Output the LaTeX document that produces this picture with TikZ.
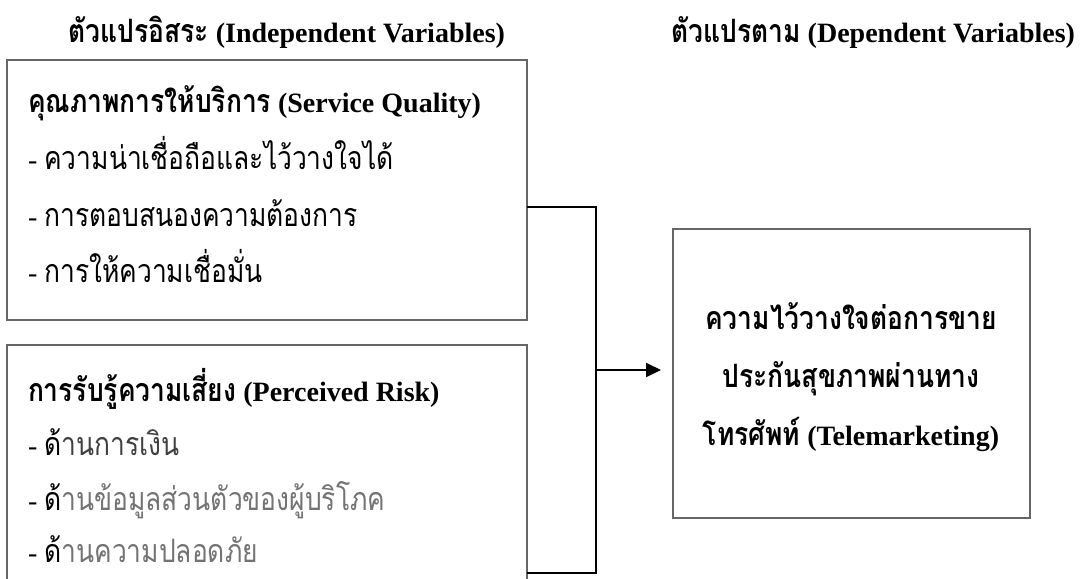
\documentclass[tikz,border=0pt]{standalone}
\usepackage{fontspec}
\setmainfont{Liberation Serif}
\newfontfamily\thai[Script=Thai,FakeStretch=0.82,Scale=1.15]{Loma}
\usetikzlibrary{arrows.meta}
\newcommand{\tha}[1]{{\thai #1}}
\definecolor{faded}{gray}{0.45}
\definecolor{faded2}{gray}{0.25}
\begin{document}
\begin{tikzpicture}[x=1pt,y=-1pt,
  every node/.style={inner sep=0pt, outer sep=0pt, font=\fontsize{28}{34}\selectfont},
  box/.style={draw=black!60, line width=1.2pt},
  conn/.style={line width=2.7pt, black, line join=miter},
  arr/.style={line width=2pt, black, -{Triangle[length=15pt,width=14pt]}},
  txt/.style={anchor=base west},
  ctr/.style={anchor=base}]
\useasboundingbox (0,0) rectangle (1083,578);
\clip (0,0) rectangle (1083,578);

% titles
\node[anchor=base east] (tl) at (505,43) {\bfseries\tha{ตัวแปรอิสระ} (Independent Variables)};
\node[anchor=base east] (tr) at (1075,43) {\bfseries\tha{ตัวแปรตาม} (Dependent Variables)};

% boxes
\node[box, anchor=north west, minimum width=520pt, minimum height=260pt] (sq) at (7,60) {};
\node[box, anchor=north west, minimum width=520pt, minimum height=300pt] (pr) at (7,345) {};
\node[box, anchor=north west, minimum width=357pt, minimum height=289pt] (tm) at (673,229) {};

% box 1 text
\node[txt] (sq0) at (28,112) {\bfseries\tha{คุณภาพการให้บริการ} (Service Quality)};
\node[txt] (sq1) at (28,169) {- \tha{ความน่าเชื่อถือและไว้วางใจได้}};
\node[txt] (sq2) at (28,226) {- \tha{การตอบสนองความต้องการ}};
\node[txt] (sq3) at (28,282) {- \tha{การให้ความเชื่อมั่น}};

% box 2 text
\node[txt] (pr0) at (28,401) {\bfseries\tha{การรับรู้ความเสี่ยง} (Perceived Risk)};
\node[txt] (pr1) at (28,455) {- \tha{ด้}\textcolor{faded2}{\tha{านการเงิน}}};
\node[txt] (pr2) at (28,510) {- \tha{ด้}\textcolor{faded}{\tha{านข้อมูลส่วนตัวของผู้บริโภค}}};
\node[txt] (pr3) at (28,562) {- \tha{ด้}\textcolor{faded}{\tha{านความปลอดภัย}}};

% right box text
\node[ctr] (tm1) at (851,329) {\bfseries\tha{ความไว้วางใจต่อการขาย}};
\node[ctr] (tm2) at (851,387) {\bfseries\tha{ประกันสุขภาพผ่านทาง}};
\node[ctr] (tm3) at (851,445) {\bfseries\tha{โทรศัพท์} (Telemarketing)};

% connectors
\coordinate (a) at (sq.east |- 0,207);
\coordinate (b) at (596,207);
\coordinate (c) at (596,573);
\coordinate (d) at (pr.east |- 0,573);
\coordinate (e) at (596,370);
\draw[conn] (a) -- (b) -- (c) -- (d);
\draw[arr, shorten >=12pt] (e) -- (tm.west |- e);
\end{tikzpicture}
\end{document}
